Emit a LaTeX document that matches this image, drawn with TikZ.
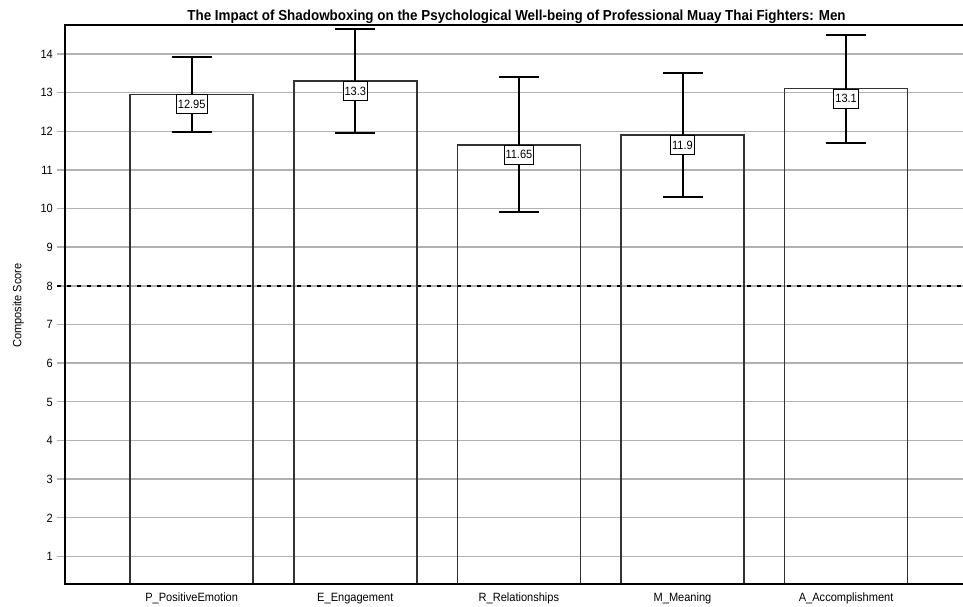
\documentclass[tikz,border=0pt]{standalone}
\usepackage{fontspec}
\setmainfont{Liberation Sans}[FakeStretch=0.92]
\newfontfamily\titlefont{Liberation Sans}[FakeStretch=0.925]
\begin{document}
\begin{tikzpicture}[x=1pt,y=-1pt,
  gridline/.style={draw=black!30, line width=1.4pt},
  frameline/.style={draw=black, line width=1.5pt},
  barbox/.style={draw=black!80, line width=1.6pt},
  errbar/.style={draw=black, line width=2pt},
  refline/.style={draw=black, line width=1.4pt, dash pattern=on 4pt off 6pt},
  meanlabel/.style={draw=black, fill=white, line width=1pt, inner xsep=1.5pt,
    inner ysep=0pt, minimum height=19pt, font=\fontsize{12}{12}\selectfont, anchor=north},
  ticklabel/.style={font=\fontsize{12}{12}\selectfont, anchor=base east, inner sep=0pt},
  catlabel/.style={font=\fontsize{12}{12}\selectfont, anchor=base, inner sep=0pt},
  axislabel/.style={font=\fontsize{12}{12}\selectfont, rotate=90, inner sep=0pt},
  titlelabel/.style={font=\titlefont\bfseries\fontsize{14.5}{14.5}\selectfont, anchor=base, inner sep=0pt}]
\useasboundingbox (0,0) rectangle (963,607);
\fill[white] (0,0) rectangle (963,607);

% horizontal grid, ticks and tick labels (value v sits at y = 595 - 38.65 v)
\foreach \v in {1,...,14} {
  \pgfmathsetmacro\yy{595-38.65*\v}
  \draw[gridline] (57,\yy) -- (963,\yy);
  \node[ticklabel] (tick\v) at (53,\yy+4.3) {\v};
}

% reference level at 8
\coordinate (refL) at (57,285.8);
\coordinate (refR) at (963,285.8);
\draw[refline] (refL) -- (refR);

% bars with error bars and mean labels
\foreach \c/\m/\e/\lab/\nm in {
    191.7/12.95/0.96/P\_PositiveEmotion/P,
    355.3/13.3/1.345/E\_Engagement/E,
    518.9/11.65/1.74/R\_Relationships/R,
    682.5/11.9/1.6/M\_Meaning/M,
    846.1/13.1/1.4/A\_Accomplishment/A} {
  \pgfmathsetmacro\yt{595-38.65*\m}
  \draw[barbox] (\c-61.5,584) rectangle (\c+61.5,\yt);
  \coordinate (\nm-hi) at (\c,{595-38.65*(\m+\e)});
  \coordinate (\nm-lo) at (\c,{595-38.65*(\m-\e)});
  \draw[errbar] (\nm-hi) -- (\nm-lo);
  \draw[errbar] ([xshift=-20pt]\nm-hi) -- ([xshift=20pt]\nm-hi);
  \draw[errbar] ([xshift=-20pt]\nm-lo) -- ([xshift=20pt]\nm-lo);
  \node[meanlabel] (\nm-val) at (\c,\yt) {\m};
  \node[catlabel] (\nm-cat) at (\c,601.5) {\lab};
}

% plot frame (open on the right)
\coordinate (frTR) at (963,25);
\coordinate (frTL) at (65,25);
\coordinate (frBL) at (65,584);
\coordinate (frBR) at (963,584);
\draw[frameline] (frTR) -- (frTL) -- (frBL) -- (frBR);

\node[axislabel] (ylab) at (18.3,305.5) {Composite Score};
\node[titlelabel] (title) at (516.5,20.5)
  {The Impact of Shadowboxing on the Psychological Well-being of Professional Muay Thai Fighters: Men};
\end{tikzpicture}
\end{document}
